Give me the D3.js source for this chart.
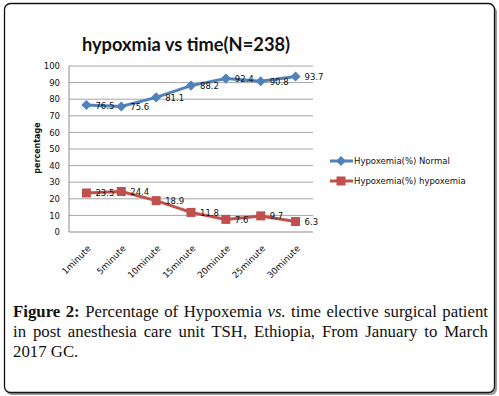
<!DOCTYPE html>
<html><head><meta charset="utf-8">
<script src="https://cdn.jsdelivr.net/npm/d3@7"></script>
<style>
html,body{margin:0;padding:0;background:#fff;}
#wrap{position:relative;width:499px;height:396px;}
svg{position:absolute;left:0;top:0;}
#cap{position:absolute;left:13px;top:302px;width:475px;font-family:"Liberation Serif","DejaVu Serif",serif;font-size:16.8px;line-height:20px;color:#111;}
#cap div{white-space:nowrap;}
#cap .j{text-align:justify;text-align-last:justify;}
</style></head><body>
<div id="wrap"><svg width="499" height="396"></svg>
<div id="cap"><div class="j"><b>Figure 2:</b> Percentage of Hypoxemia <i>vs.</i> time elective surgical patient</div><div class="j">in post anesthesia care unit TSH, Ethiopia, From January to March</div><div>2017 GC.</div></div></div>
<script>
const categories = ["1minute","5minute","10minute","15minute","20minute","25minute","30minute"];
const normalValues = [76.5,75.6,81.1,88.2,92.4,90.8,93.7];
const hypoxemiaValues = [23.5,24.4,18.9,11.8,7.6,9.7,6.3];
const yTicks = [0,10,20,30,40,50,60,70,80,90,100];
const seriesNames = ["Hypoxemia(%) Normal","Hypoxemia(%) hypoxemia"];
const titleText = "hypoxmia vs time(N=238)";
const yTitle = "percentage";

const svg = d3.select("svg");
// outer frame with shadow
svg.append("rect").attr("x",6).attr("y",6).attr("width",491).attr("height",389).attr("rx",6).attr("fill","#9a9a9a");
svg.append("rect").attr("x",4.5).attr("y",3.5).attr("width",490).attr("height",389).attr("rx",6).attr("fill","#fff").attr("stroke","#111").attr("stroke-width",1.3);

const pL=69, pR=313, pT=66, pB=232;
const x = d3.scaleBand().domain(categories).range([pL,pR]);
const y = d3.scaleLinear().domain([0,100]).range([pB,pT]);
const cx = d => x(d)+x.bandwidth()/2;

// gridlines
svg.append("g").selectAll("line").data(yTicks).join("line")
  .attr("x1",pL).attr("x2",pR).attr("y1",d=>y(d)).attr("y2",d=>y(d))
  .attr("stroke",d=>d===0?"#8c8c8c":"#a6a6a6").attr("stroke-width",1);
svg.append("line").attr("x1",pL).attr("x2",pL).attr("y1",pT).attr("y2",pB).attr("stroke","#8c8c8c");

// y axis labels
const yAxis = d3.axisLeft(y).tickValues(yTicks).tickSize(0).tickPadding(9);
const gy = svg.append("g").attr("transform",`translate(${pL},0)`).call(yAxis);
gy.select(".domain").remove();
gy.selectAll("text").attr("font-family","DejaVu Sans, sans-serif").attr("font-size",8.5).attr("fill","#111");

// x axis labels
const xAxis = d3.axisBottom(x).tickSize(0).tickPadding(0);
const gx = svg.append("g").attr("transform",`translate(0,${pB})`).call(xAxis);
gx.select(".domain").remove();
gx.selectAll("text").attr("font-family","DejaVu Sans, sans-serif").attr("font-size",8.8).attr("fill","#111")
  .attr("text-anchor","end").attr("dy",0).attr("y",0)
  .attr("transform","translate(5,17) rotate(-45)");

// title
svg.append("text").attr("x",186).attr("y",51).attr("text-anchor","middle")
  .attr("font-family","Lato, Open Sans, sans-serif").attr("font-weight","bold").attr("font-size",18.3).attr("fill","#111").text(titleText);
// y title
svg.append("text").attr("transform","translate(40,148) rotate(-90)").attr("text-anchor","middle")
  .attr("font-family","DejaVu Sans, sans-serif").attr("font-weight","bold").attr("font-size",8).attr("fill","#111").text(yTitle);

const blue="#4F81BD", red="#C0504D";
const line = d3.line().x((d,i)=>cx(categories[i])).y(d=>y(d));
svg.append("path").datum(normalValues).attr("d",line).attr("fill","none").attr("stroke",blue).attr("stroke-width",3);
svg.append("path").datum(hypoxemiaValues).attr("d",line).attr("fill","none").attr("stroke",red).attr("stroke-width",3);
const diamond = d3.symbol().type(d3.symbolDiamond2).size(65);
svg.append("g").selectAll("path").data(normalValues).join("path")
  .attr("transform",(d,i)=>`translate(${cx(categories[i])},${y(d)})`).attr("d",diamond).attr("fill",blue);
svg.append("g").selectAll("rect").data(hypoxemiaValues).join("rect")
  .attr("x",(d,i)=>cx(categories[i])-4.5).attr("y",d=>y(d)-4.5).attr("width",9).attr("height",9).attr("fill",red);

// data labels
function labels(vals){
  svg.append("g").selectAll("text").data(vals).join("text")
    .attr("x",(d,i)=>cx(categories[i])+9).attr("y",d=>y(d)+3.5)
    .attr("font-family","DejaVu Sans, sans-serif").attr("font-size",8.5).attr("fill","#111").text(d=>d);
}
labels(normalValues); labels(hypoxemiaValues);

// legend
const leg = svg.append("g");
[[blue,"d"],[red,"s"]].forEach((c,i)=>{
  const ly = 161+i*20;
  leg.append("line").attr("x1",330).attr("x2",353).attr("y1",ly).attr("y2",ly).attr("stroke",c[0]).attr("stroke-width",3);
  if(c[1]==="d") leg.append("path").attr("transform",`translate(341,${ly})`).attr("d",diamond).attr("fill",c[0]);
  else leg.append("rect").attr("x",336.5).attr("y",ly-4.5).attr("width",9).attr("height",9).attr("fill",c[0]);
  leg.append("text").attr("x",354).attr("y",ly+3).attr("font-family","DejaVu Sans, sans-serif").attr("font-size",8.5).attr("fill","#111").text(seriesNames[i]);
});
</script></body></html>
